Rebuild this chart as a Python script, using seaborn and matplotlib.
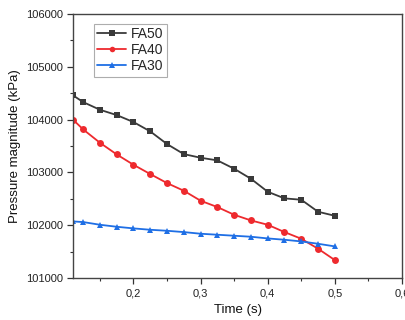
import numpy as np
import pandas as pd
import matplotlib
matplotlib.use("Agg")
import matplotlib.pyplot as plt
from matplotlib.ticker import MultipleLocator, FuncFormatter
import seaborn as sns

# values
time_s = [0.11, 0.125, 0.15, 0.175, 0.2, 0.225, 0.25, 0.275, 0.3,
          0.325, 0.35, 0.375, 0.4, 0.425, 0.45, 0.475, 0.5]
fa50 = [104460, 104333, 104188, 104087, 103955, 103778, 103538, 103348, 103279,
        103229, 103071, 102881, 102635, 102509, 102484, 102256, 102180]
fa40 = [103999, 103816, 103563, 103342, 103146, 102970, 102799, 102654, 102465,
        102345, 102199, 102092, 102010, 101871, 101745, 101556, 101341]
fa30 = [102073, 102061, 102010, 101972, 101941, 101915, 101896, 101871, 101840,
        101821, 101802, 101783, 101751, 101726, 101694, 101650, 101600]

series_names = ["FA50", "FA40", "FA30"]
colors = {"FA50": "#3a3a3a", "FA40": "#ee2a2e", "FA30": "#1f6fe5"}
markers = {"FA50": "s", "FA40": "o", "FA30": "^"}

df = pd.concat([
    pd.DataFrame({"time": time_s, "pressure": vals, "series": name})
    for name, vals in zip(series_names, [fa50, fa40, fa30])
])

sns.set_theme(style="ticks")
plt.rcParams["font.family"] = ["Liberation Sans", "DejaVu Sans"]

fig = plt.figure(figsize=(4.06, 3.2), dpi=100)
ax = fig.add_axes([0.18, 0.131, 0.81, 0.825])

sns.lineplot(data=df, x="time", y="pressure", hue="series", style="series",
             hue_order=series_names, style_order=series_names,
             palette=colors, markers=markers, dashes=False,
             linewidth=1.3, markersize=5, markeredgewidth=0, ax=ax)

ax.set_xlim(0.11, 0.6)
ax.set_ylim(101000, 106000)
ax.xaxis.set_major_locator(MultipleLocator(0.1))
ax.xaxis.set_minor_locator(MultipleLocator(0.05))
ax.yaxis.set_major_locator(MultipleLocator(1000))
ax.yaxis.set_minor_locator(MultipleLocator(500))
ax.xaxis.set_major_formatter(FuncFormatter(lambda v, p: f"{v:.1f}".replace(".", ",")))
ax.yaxis.set_major_formatter(FuncFormatter(lambda v, p: f"{v:.0f}"))

ax.tick_params(axis="both", which="major", direction="out", length=4, width=0.9,
               labelsize=8, colors="#333333", labelcolor="#222222")
ax.tick_params(axis="both", which="minor", direction="out", length=2.5, width=0.8,
               colors="#333333")
for s in ax.spines.values():
    s.set_color("#444444")
    s.set_linewidth(1.0)

ax.set_xlabel("Time (s)", fontsize=9.5, color="#111111", labelpad=4)
ax.set_ylabel("Pressure magnitude (kPa)", fontsize=9.5, color="#111111", labelpad=3)

leg = ax.legend(loc="upper left", bbox_to_anchor=(0.042, 0.99), fontsize=10,
                handlelength=2.1, handletextpad=0.3, borderpad=0.25,
                labelspacing=0.15, frameon=True, fancybox=False, title=None,
                markerscale=0.8)
leg.get_frame().set_edgecolor("#999999")
leg.get_frame().set_linewidth(0.8)

fig.savefig("out.png", dpi=100)
